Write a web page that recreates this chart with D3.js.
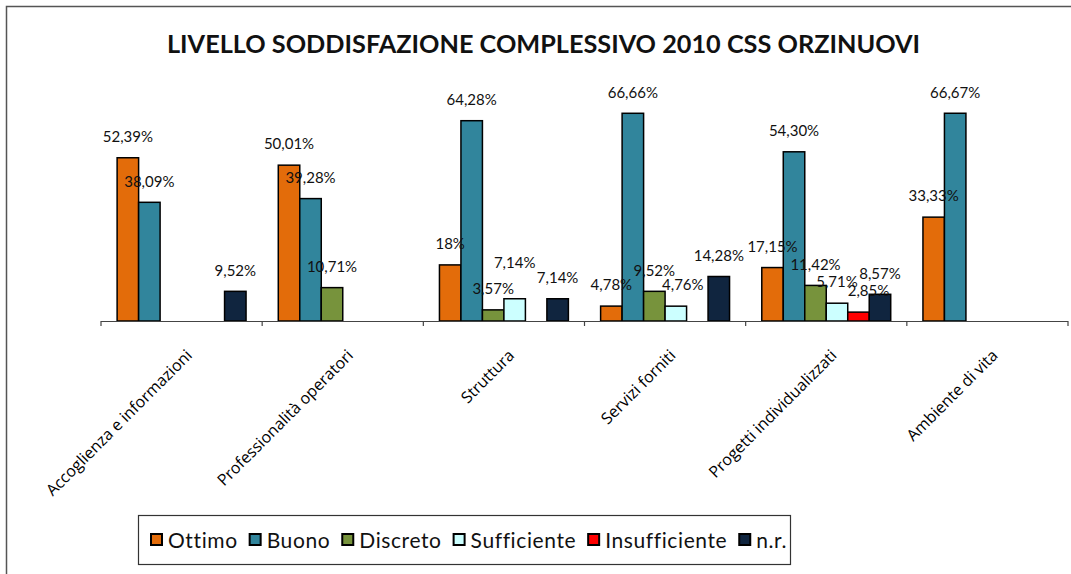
<!DOCTYPE html>
<html>
<head>
<meta charset="utf-8">
<script src="https://cdn.jsdelivr.net/npm/d3@7"></script>
<style>
  html, body { margin: 0; padding: 0; background: #fff; }
  svg { display: block; }
</style>
</head>
<body>
<div id="chart"></div>
<script>
const title = "LIVELLO SODDISFAZIONE COMPLESSIVO 2010 CSS ORZINUOVI";
const categories = ["Accoglienza e informazioni", "Professionalità operatori", "Struttura",
  "Servizi forniti", "Progetti individualizzati", "Ambiente di vita"];
const seriesNames = ["Ottimo", "Buono", "Discreto", "Sufficiente", "Insufficiente", "n.r."];
const ottimo = [52.39, 50.01, 18, 4.78, 17.15, 33.33];
const buono = [38.09, 39.28, 64.28, 66.66, 54.30, 66.67];
const discreto = [null, 10.71, 3.57, 9.52, 11.42, null];
const sufficiente = [null, null, 7.14, 4.76, 5.71, null];
const insufficiente = [null, null, null, null, 2.85, null];
const nr = [9.52, null, 7.14, 14.28, 8.57, null];

const seriesValues = [ottimo, buono, discreto, sufficiente, insufficiente, nr];
const colors = ["#E36C0A", "#31859C", "#77933C", "#CCFFFF", "#FF0000", "#10253F"];

// a few labels were moved by hand in the original to avoid overlaps
const labelNudge = {
  "Struttura|Sufficiente": [0, -15],
  "Servizi forniti|Sufficiente": [7, 0],
  "Progetti individualizzati|Insufficiente": [10, 0]
};

const width = 1071, height = 574;
const baseY = 321;

const svg = d3.select("#chart").append("svg")
  .attr("width", width)
  .attr("height", height);

// outer chart frame (right and bottom edges fall outside the picture)
svg.append("rect")
  .attr("x", 6.5).attr("y", 6.5)
  .attr("width", 1200).attr("height", 700)
  .attr("fill", "none")
  .attr("stroke", "#555")
  .attr("stroke-width", 1.5);

svg.append("text")
  .attr("x", 167).attr("y", 53)
  .attr("textLength", 753)
  .attr("lengthAdjust", "spacingAndGlyphs")
  .attr("font-family", "Lato, sans-serif")
  .attr("font-weight", "bold")
  .attr("font-size", 25)
  .attr("fill", "#111")
  .text(title);

const x0 = d3.scaleBand().domain(categories).range([101, 1068]).padding(0);
const x1 = d3.scaleBand().domain(seriesNames).range([0, x0.bandwidth()])
  .paddingInner(0).paddingOuter(0.75);
const y = d3.scaleLinear().domain([0, 70]).range([baseY, baseY - 70 * 3.116]);

const rows = [];
categories.forEach((c, i) => {
  seriesNames.forEach((s, j) => {
    const v = seriesValues[j][i];
    if (v != null) rows.push({ cat: c, ser: s, v: v, color: colors[j] });
  });
});

const fmt = v => (Number.isInteger(v) ? String(v) : v.toFixed(2).replace(".", ",")) + "%";

svg.append("g").selectAll("rect")
  .data(rows)
  .join("rect")
  .attr("x", d => x0(d.cat) + x1(d.ser))
  .attr("y", d => y(d.v))
  .attr("width", x1.bandwidth())
  .attr("height", d => baseY - y(d.v))
  .attr("fill", d => d.color)
  .attr("stroke", "#000")
  .attr("stroke-width", 1.5);

// category axis: line with tick marks between categories
const axis = svg.append("g");
axis.append("line")
  .attr("x1", 101).attr("x2", 1068)
  .attr("y1", baseY + 0.5).attr("y2", baseY + 0.5)
  .attr("stroke", "#444").attr("stroke-width", 1.2);
const bounds = categories.map(c => x0(c)).concat([x0.range()[1]]);
axis.selectAll("line.tick")
  .data(bounds)
  .join("line")
  .attr("class", "tick")
  .attr("x1", d => d).attr("x2", d => d)
  .attr("y1", baseY).attr("y2", baseY + 5)
  .attr("stroke", "#444").attr("stroke-width", 1.2);

axis.selectAll("text.cat")
  .data(categories)
  .join("text")
  .attr("class", "cat")
  .attr("transform", d => `translate(${x0(d) + x0.bandwidth() / 2 + 3},348) rotate(-45)`)
  .attr("text-anchor", "end")
  .attr("dy", "0.75em")
  .attr("font-family", "'Open Sans', sans-serif")
  .attr("font-size", 16)
  .attr("fill", "#000")
  .text(d => d);

// value labels
svg.append("g").selectAll("text")
  .data(rows)
  .join("text")
  .attr("x", d => x0(d.cat) + x1(d.ser) + x1.bandwidth() / 2 + (labelNudge[d.cat + "|" + d.ser] || [0, 0])[0])
  .attr("y", d => y(d.v) - 21 + (labelNudge[d.cat + "|" + d.ser] || [0, 0])[1])
  .attr("dy", "0.35em")
  .attr("text-anchor", "middle")
  .attr("font-family", "Lato, sans-serif")
  .attr("font-size", 15)
  .attr("fill", "#111")
  .text(d => fmt(d.v));

// legend
const legend = svg.append("g");
legend.append("rect")
  .attr("x", 138.5).attr("y", 515.5)
  .attr("width", 652).attr("height", 49)
  .attr("fill", "#fff")
  .attr("stroke", "#333").attr("stroke-width", 1.2);

let lx = 151;
seriesNames.forEach((s, j) => {
  legend.append("rect")
    .attr("x", lx).attr("y", 534)
    .attr("width", 11).attr("height", 11)
    .attr("fill", colors[j])
    .attr("stroke", "#000").attr("stroke-width", 2);
  const t = legend.append("text")
    .attr("x", lx + 17).attr("y", 540)
    .attr("dy", "0.36em")
    .attr("font-family", "Lato, sans-serif")
    .attr("font-size", 21)
    .attr("letter-spacing", 0.6)
    .attr("fill", "#111")
    .text(s);
  lx += 17 + t.node().getComputedTextLength() + 12;
});
</script>
</body>
</html>
